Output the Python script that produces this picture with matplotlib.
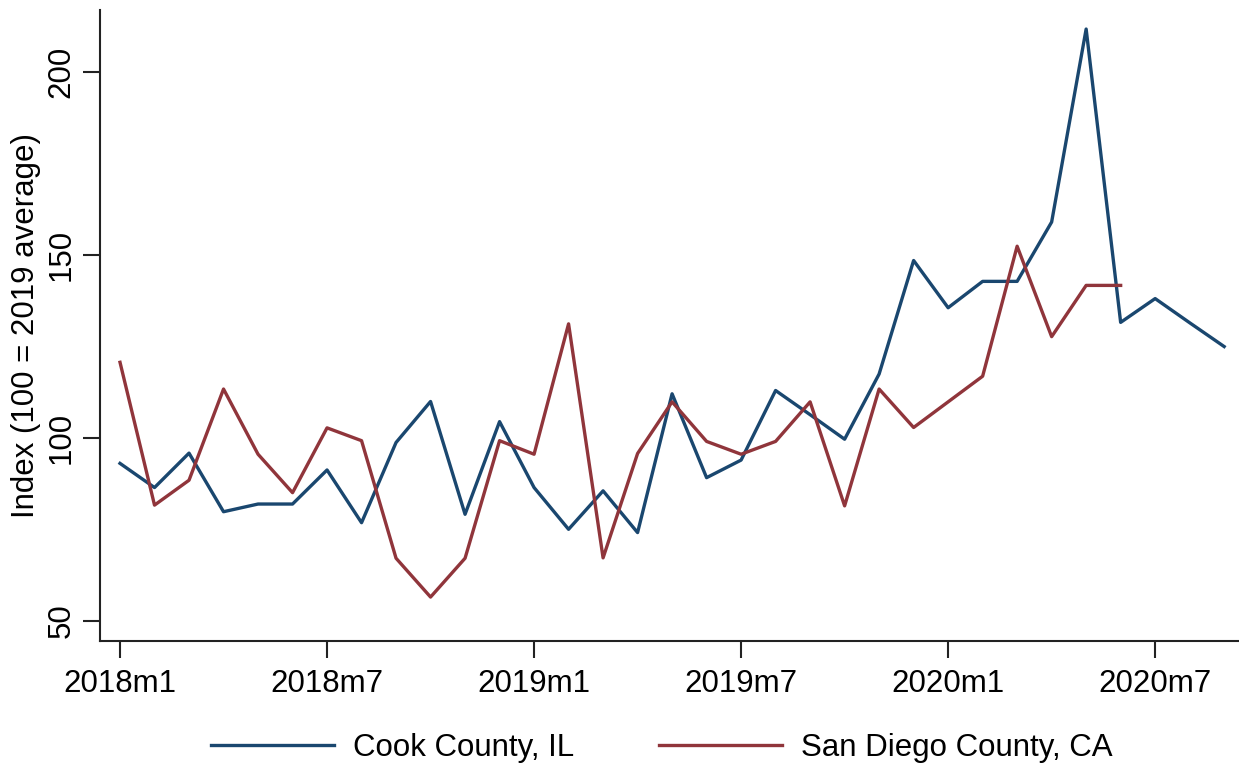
import numpy as np
import matplotlib.pyplot as plt

plt.rcParams['font.family'] = ['Liberation Sans', 'DejaVu Sans']

# months since 2018m1
cook = [93.0, 86.4, 95.8, 79.8, 81.9, 81.9, 91.2, 76.8, 98.7, 109.9, 79.1, 104.4,
        86.4, 75.0, 85.5, 74.1, 112.0, 89.1, 93.9, 112.9, 106.3, 99.6, 117.4, 148.4,
        135.5, 142.7, 142.7, 158.9, 211.6, 131.5, 138.0, 131.4, 124.9]
san_diego = [120.6, 81.6, 88.4, 113.3, 95.5, 85.0, 102.7, 99.2, 67.1, 56.5, 67.1, 99.2,
             95.5, 131.1, 67.2, 95.7, 109.8, 99.0, 95.5, 99.0, 109.8, 81.4, 113.3, 102.8,
             109.8, 116.8, 152.3, 127.6, 141.6, 141.6]
tick_pos = [0, 6, 12, 18, 24, 30]
tick_labels = ["2018m1", "2018m7", "2019m1", "2019m7", "2020m1", "2020m7"]

navy = "#1a476f"
maroon = "#90353b"

fig = plt.figure(figsize=(12.39, 7.67), dpi=100)
ax = fig.add_axes([100/1239, 1 - 641/767, 1 - 100/1239, (641 - 10)/767])

ax.plot(np.arange(len(cook)), cook, color=navy, lw=2.4, label="Cook County, IL")
ax.plot(np.arange(len(san_diego)), san_diego, color=maroon, lw=2.4, label="San Diego County, CA")

ax.set_xlim(-0.58, 32.43)
ax.set_ylim(44.5, 216.8)
ax.set_xticks(tick_pos)
ax.set_xticklabels(tick_labels)
ax.set_yticks([50, 100, 150, 200])
ax.set_yticklabels(["50", "100", "150", "200"], rotation=90, va="center")
ax.tick_params(axis="both", labelsize=22.5, length=12, width=1.5, pad=8, color="#222222")
ax.tick_params(axis="y", pad=5)
for s in ["top", "right"]:
    ax.spines[s].set_visible(False)
for s in ["left", "bottom"]:
    ax.spines[s].set_linewidth(1.5)
    ax.spines[s].set_color("#222222")
ax.set_ylabel("Index (100 = 2019 average)", fontsize=22.5)
ax.yaxis.set_label_coords(-0.052, 0.5)

fig.legend(loc="center", bbox_to_anchor=(0.534, 1 - 748/767), ncol=2, frameon=False,
           fontsize=22.5, handlelength=3.95, columnspacing=2.7, handletextpad=0.6)

fig.savefig("out.png", dpi=100)
